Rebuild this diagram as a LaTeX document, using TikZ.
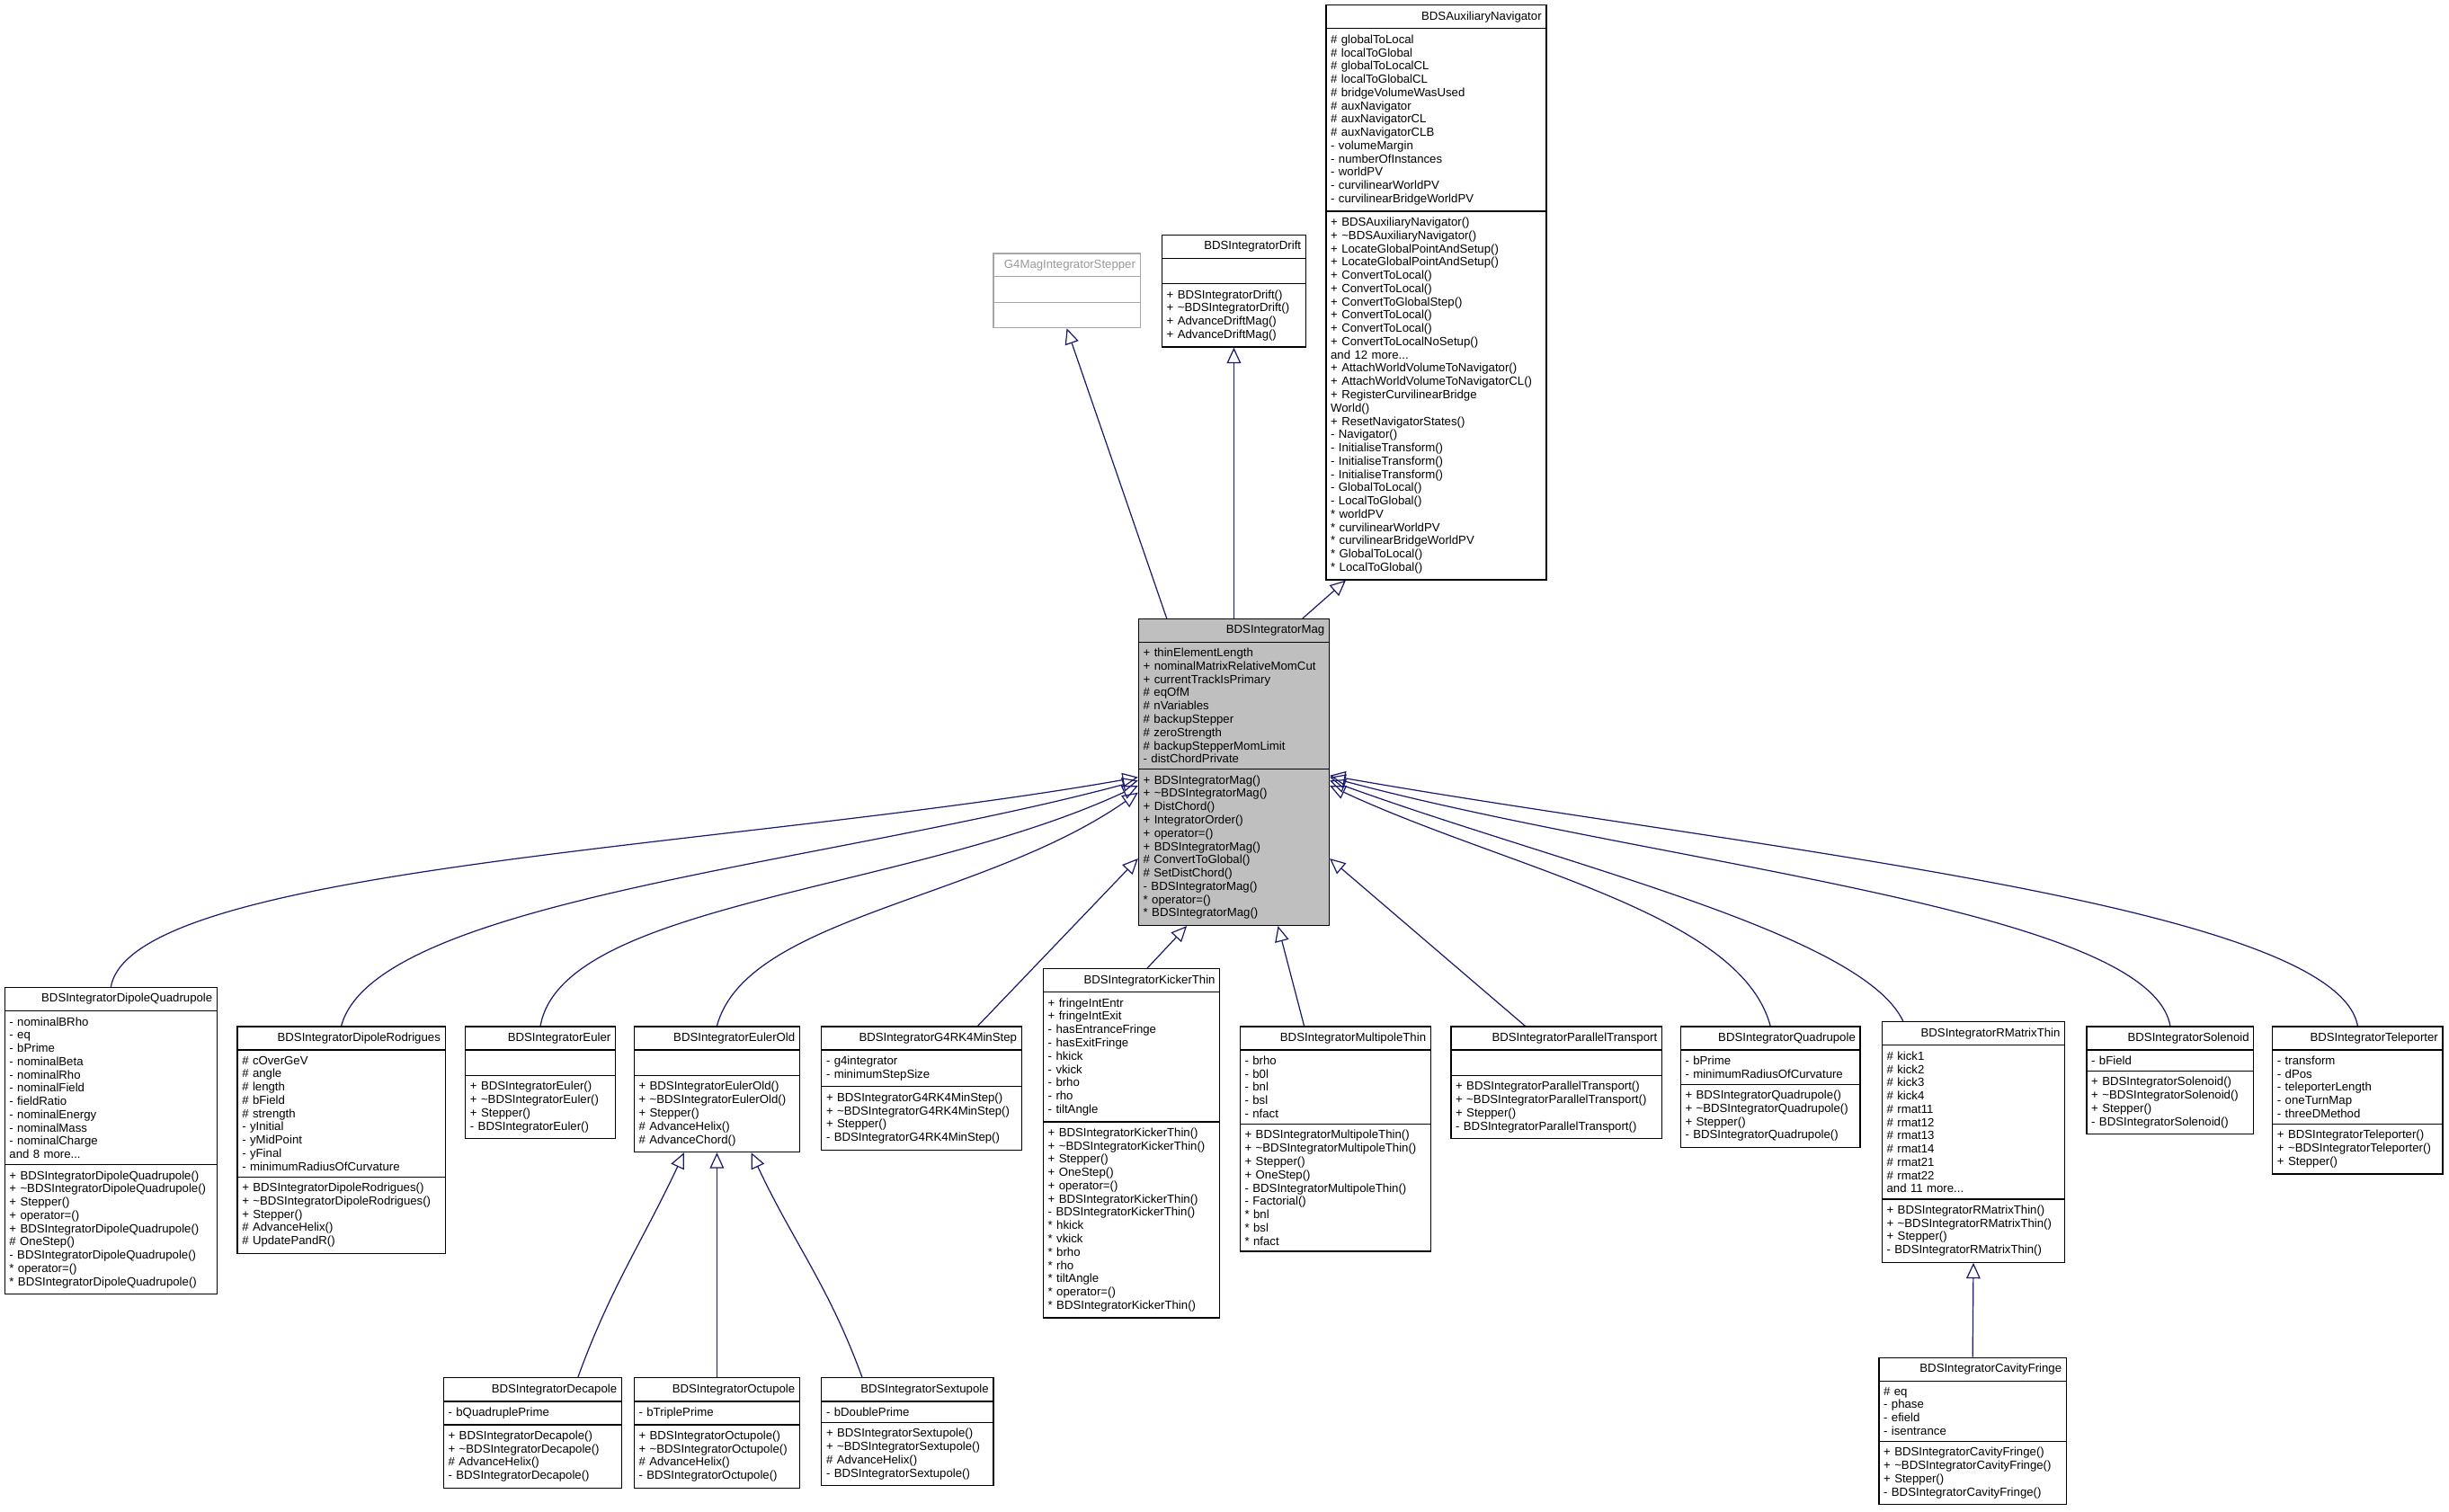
\documentclass[tikz,border=0pt]{standalone}
\usepackage{fontspec}
\setmainfont{Liberation Sans}
\usetikzlibrary{calc}
\usetikzlibrary{shapes.multipart}
\usetikzlibrary{arrows.meta}
\definecolor{edgeblue}{HTML}{191970}
\newcommand{\dt}{\textasciitilde}
\newcommand{\ctr}[1]{\hspace*{\fill}#1\hspace*{\fill}}
\begin{document}
\begin{tikzpicture}[x=0.5pt,y=-0.5pt,
  umlclass/.style={rectangle split,rectangle split parts=3,draw,anchor=north,align=left,
    inner xsep=1.5pt,inner ysep=1.8pt,font=\fontsize{3.8}{4.25}\selectfont,line width=0.35pt},
  external/.style={umlclass,draw=gray!70,text=gray!80},
  current/.style={umlclass,fill=gray!50},
  inherit/.style={draw=edgeblue,line width=0.35pt,-{Triangle[open,length=5pt,width=4.5pt]}}]
  \useasboundingbox (0,0) rectangle (1568,968);
  % parents
  \node[external,text width=44pt] (stepper) at (683,162) {\ctr{G4MagIntegratorStepper}\nodepart{two}\strut\nodepart{three}\strut};
  \node[umlclass,text width=43pt] (drift) at (790,150) {\ctr{BDSIntegratorDrift}\nodepart{two}\strut\nodepart{three}+ BDSIntegratorDrift()\\+ \dt BDSIntegratorDrift()\\+ AdvanceDriftMag()\\+ AdvanceDriftMag()};
  \node[umlclass,text width=67.5pt] (auxnav) at (919.5,3) {\ctr{BDSAuxiliaryNavigator}\nodepart{two}\# globalToLocal\\\# localToGlobal\\\# globalToLocalCL\\\# localToGlobalCL\\\# bridgeVolumeWasUsed\\\# auxNavigator\\\# auxNavigatorCL\\\# auxNavigatorCLB\\- volumeMargin\\- numberOfInstances\\- worldPV\\- curvilinearWorldPV\\- curvilinearBridgeWorldPV\nodepart{three}+ BDSAuxiliaryNavigator()\\+ \dt BDSAuxiliaryNavigator()\\+ LocateGlobalPointAndSetup()\\+ LocateGlobalPointAndSetup()\\+ ConvertToLocal()\\+ ConvertToLocal()\\+ ConvertToGlobalStep()\\+ ConvertToLocal()\\+ ConvertToLocal()\\+ ConvertToLocalNoSetup()\\and 12 more...\\+ AttachWorldVolumeToNavigator()\\+ AttachWorldVolumeToNavigatorCL()\\+ RegisterCurvilinearBridge\\World()\\+ ResetNavigatorStates()\\- Navigator()\\- InitialiseTransform()\\- InitialiseTransform()\\- InitialiseTransform()\\- GlobalToLocal()\\- LocalToGlobal()\\{}* worldPV\\{}* curvilinearWorldPV\\{}* curvilinearBridgeWorldPV\\{}* GlobalToLocal()\\{}* LocalToGlobal()};
  % current class
  \node[current,text width=58pt] (mag) at (790,396) {\ctr{BDSIntegratorMag}\nodepart{two}+ thinElementLength\\+ nominalMatrixRelativeMomCut\\+ currentTrackIsPrimary\\\# eqOfM\\\# nVariables\\\# backupStepper\\\# zeroStrength\\\# backupStepperMomLimit\\- distChordPrivate\nodepart{three}+ BDSIntegratorMag()\\+ \dt BDSIntegratorMag()\\+ DistChord()\\+ IntegratorOrder()\\+ operator=()\\+ BDSIntegratorMag()\\\# ConvertToGlobal()\\\# SetDistChord()\\- BDSIntegratorMag()\\{}* operator=()\\{}* BDSIntegratorMag()};
  % children
  \node[umlclass,text width=65pt] (dipquad) at (71,632) {\ctr{BDSIntegratorDipoleQuadrupole}\nodepart{two}- nominalBRho\\- eq\\- bPrime\\- nominalBeta\\- nominalRho\\- nominalField\\- fieldRatio\\- nominalEnergy\\- nominalMass\\- nominalCharge\\and 8 more...\nodepart{three}+ BDSIntegratorDipoleQuadrupole()\\+ \dt BDSIntegratorDipoleQuadrupole()\\+ Stepper()\\+ operator=()\\+ BDSIntegratorDipoleQuadrupole()\\\# OneStep()\\- BDSIntegratorDipoleQuadrupole()\\{}* operator=()\\{}* BDSIntegratorDipoleQuadrupole()};
  \node[umlclass,text width=63.5pt] (diprod) at (218.5,657) {\ctr{BDSIntegratorDipoleRodrigues}\nodepart{two}\# cOverGeV\\\# angle\\\# length\\\# bField\\\# strength\\- yInitial\\- yMidPoint\\- yFinal\\- minimumRadiusOfCurvature\nodepart{three}+ BDSIntegratorDipoleRodrigues()\\+ \dt BDSIntegratorDipoleRodrigues()\\+ Stepper()\\\# AdvanceHelix()\\\# UpdatePandR()};
  \node[umlclass,text width=45pt] (euler) at (346,657) {\ctr{BDSIntegratorEuler}\nodepart{two}\strut\nodepart{three}+ BDSIntegratorEuler()\\+ \dt BDSIntegratorEuler()\\+ Stepper()\\- BDSIntegratorEuler()};
  \node[umlclass,text width=50pt] (eulerold) at (459,657) {\ctr{BDSIntegratorEulerOld}\nodepart{two}\strut\nodepart{three}+ BDSIntegratorEulerOld()\\+ \dt BDSIntegratorEulerOld()\\+ Stepper()\\\# AdvanceHelix()\\\# AdvanceChord()};
  \node[umlclass,text width=61pt] (rkminstep) at (590,657) {\ctr{BDSIntegratorG4RK4MinStep}\nodepart{two}- g4integrator\\- minimumStepSize\nodepart{three}+ BDSIntegratorG4RK4MinStep()\\+ \dt BDSIntegratorG4RK4MinStep()\\+ Stepper()\\- BDSIntegratorG4RK4MinStep()};
  \node[umlclass,text width=53.5pt] (kicker) at (724.5,620) {\ctr{BDSIntegratorKickerThin}\nodepart{two}+ fringeIntEntr\\+ fringeIntExit\\- hasEntranceFringe\\- hasExitFringe\\- hkick\\- vkick\\- brho\\- rho\\- tiltAngle\nodepart{three}+ BDSIntegratorKickerThin()\\+ \dt BDSIntegratorKickerThin()\\+ Stepper()\\+ OneStep()\\+ operator=()\\+ BDSIntegratorKickerThin()\\- BDSIntegratorKickerThin()\\{}* hkick\\{}* vkick\\{}* brho\\{}* rho\\{}* tiltAngle\\{}* operator=()\\{}* BDSIntegratorKickerThin()};
  \node[umlclass,text width=58pt] (multipole) at (855,657) {\ctr{BDSIntegratorMultipoleThin}\nodepart{two}- brho\\- b0l\\- bnl\\- bsl\\- nfact\nodepart{three}+ BDSIntegratorMultipoleThin()\\+ \dt BDSIntegratorMultipoleThin()\\+ Stepper()\\+ OneStep()\\- BDSIntegratorMultipoleThin()\\- Factorial()\\{}* bnl\\{}* bsl\\{}* nfact};
  \node[umlclass,text width=64.5pt] (partrans) at (996.5,657) {\ctr{BDSIntegratorParallelTransport}\nodepart{two}\strut\nodepart{three}+ BDSIntegratorParallelTransport()\\+ \dt BDSIntegratorParallelTransport()\\+ Stepper()\\- BDSIntegratorParallelTransport()};
  \node[umlclass,text width=54.5pt] (quad) at (1133.5,657) {\ctr{BDSIntegratorQuadrupole}\nodepart{two}- bPrime\\- minimumRadiusOfCurvature\nodepart{three}+ BDSIntegratorQuadrupole()\\+ \dt BDSIntegratorQuadrupole()\\+ Stepper()\\- BDSIntegratorQuadrupole()};
  \node[umlclass,text width=55.5pt] (rmatrix) at (1263.5,654) {\ctr{BDSIntegratorRMatrixThin}\nodepart{two}\# kick1\\\# kick2\\\# kick3\\\# kick4\\\# rmat11\\\# rmat12\\\# rmat13\\\# rmat14\\\# rmat21\\\# rmat22\\and 11 more...\nodepart{three}+ BDSIntegratorRMatrixThin()\\+ \dt BDSIntegratorRMatrixThin()\\+ Stepper()\\- BDSIntegratorRMatrixThin()};
  \node[umlclass,text width=50.5pt] (solenoid) at (1389.5,657) {\ctr{BDSIntegratorSolenoid}\nodepart{two}- bField\nodepart{three}+ BDSIntegratorSolenoid()\\+ \dt BDSIntegratorSolenoid()\\+ Stepper()\\- BDSIntegratorSolenoid()};
  \node[umlclass,text width=51.5pt] (teleporter) at (1509.5,657) {\ctr{BDSIntegratorTeleporter}\nodepart{two}- transform\\- dPos\\- teleporterLength\\- oneTurnMap\\- threeDMethod\nodepart{three}+ BDSIntegratorTeleporter()\\+ \dt BDSIntegratorTeleporter()\\+ Stepper()};
  % grandchildren
  \node[umlclass,text width=54pt] (decapole) at (341,882) {\ctr{BDSIntegratorDecapole}\nodepart{two}- bQuadruplePrime\nodepart{three}+ BDSIntegratorDecapole()\\+ \dt BDSIntegratorDecapole()\\\# AdvanceHelix()\\- BDSIntegratorDecapole()};
  \node[umlclass,text width=50pt] (octupole) at (459,882) {\ctr{BDSIntegratorOctupole}\nodepart{two}- bTriplePrime\nodepart{three}+ BDSIntegratorOctupole()\\+ \dt BDSIntegratorOctupole()\\\# AdvanceHelix()\\- BDSIntegratorOctupole()};
  \node[umlclass,text width=52pt] (sextupole) at (581,882) {\ctr{BDSIntegratorSextupole}\nodepart{two}- bDoublePrime\nodepart{three}+ BDSIntegratorSextupole()\\+ \dt BDSIntegratorSextupole()\\\# AdvanceHelix()\\- BDSIntegratorSextupole()};
  \node[umlclass,text width=57pt] (cavfringe) at (1263,869) {\ctr{BDSIntegratorCavityFringe}\nodepart{two}\# eq\\- phase\\- efield\\- isentrance\nodepart{three}+ BDSIntegratorCavityFringe()\\+ \dt BDSIntegratorCavityFringe()\\+ Stepper()\\- BDSIntegratorCavityFringe()};
  % inheritance
  \draw[inherit] ($(mag.north)+(-43,0)$) -- (stepper.south);
  \draw[inherit] (mag.north) -- (drift.south);
  \draw[inherit] ($(mag.north)+(44,0)$) -- ($(auxnav.south west)+(13,0)$);
  \draw[inherit] (dipquad.north) to[out=80,in=190,out looseness=0.3] (mag.183);
  \draw[inherit] (diprod.north) to[out=75,in=195,out looseness=0.4] (mag.185);
  \draw[inherit] (euler.north) to[out=80,in=205,out looseness=0.5] (mag.188);
  \draw[inherit] (eulerold.north) to[out=75,in=215,out looseness=0.6] (mag.192);
  \draw[inherit] ($(rkminstep.north)+(36,0)$) -- (mag.222);
  \draw[inherit] ($(kicker.north)+(10,0)$) -- (mag.253);
  \draw[inherit] ($(multipole.north)+(-20,0)$) -- (mag.286);
  \draw[inherit] ($(partrans.north)+(-20,0)$) -- (mag.318);
  \draw[inherit] (quad.north) to[out=105,in=335,out looseness=0.6] (mag.352);
  \draw[inherit] ($(rmatrix.north)+(-45,0)$) to[out=115,in=340,out looseness=0.4] (mag.355);
  \draw[inherit] (solenoid.north) to[out=100,in=345,out looseness=0.35] (mag.357);
  \draw[inherit] (teleporter.north) to[out=100,in=350,out looseness=0.3] (mag.358);
  \draw[inherit] ($(decapole.north)+(29,0)$) to[out=70,in=245] ($(eulerold.south)+(-21,0)$);
  \draw[inherit] (octupole.north) -- (eulerold.south);
  \draw[inherit] ($(sextupole.north)+(-29,0)$) to[out=110,in=295] ($(eulerold.south)+(22,0)$);
  \draw[inherit] (cavfringe.north) -- (rmatrix.south);
\end{tikzpicture}
\end{document}
